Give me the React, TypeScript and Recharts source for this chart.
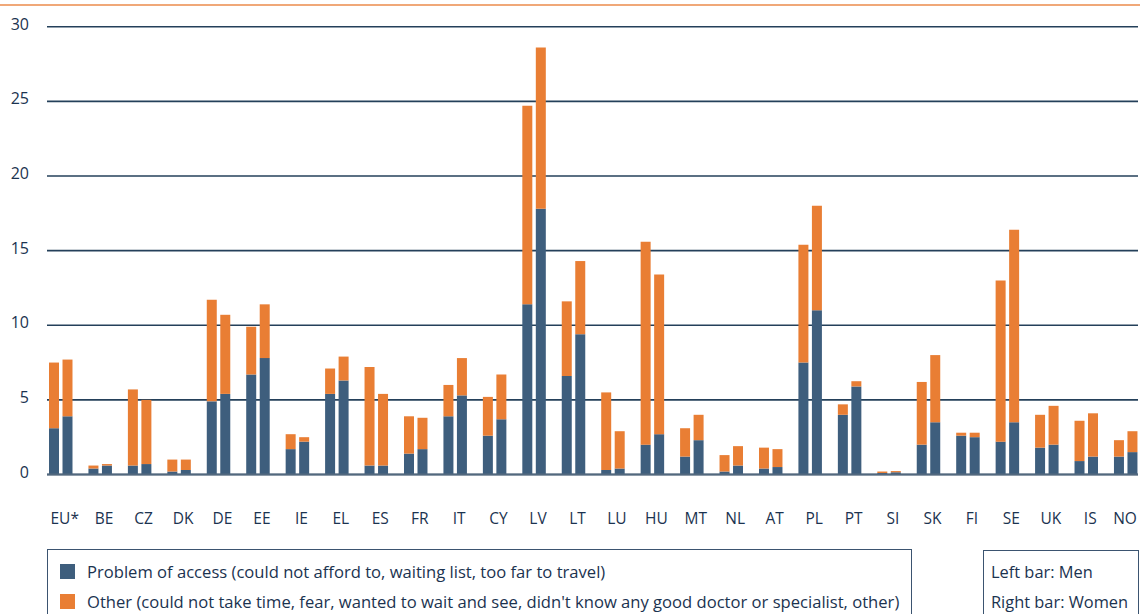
import React from 'react';
import { BarChart, Bar, XAxis, YAxis, CartesianGrid } from 'recharts';

const countries = ['EU*', 'BE', 'CZ', 'DK', 'DE', 'EE', 'IE', 'EL', 'ES', 'FR', 'IT', 'CY', 'LV', 'LT', 'LU', 'HU', 'MT', 'NL', 'AT', 'PL', 'PT', 'SI', 'SK', 'FI', 'SE', 'UK', 'IS', 'NO'];

const menAccess = [3.1, 0.4, 0.6, 0.2, 4.9, 6.7, 1.7, 5.4, 0.6, 1.4, 3.9, 2.6, 11.4, 6.6, 0.3, 2.0, 1.2, 0.2, 0.4, 7.5, 4.0, 0.1, 2.0, 2.6, 2.2, 1.8, 0.9, 1.2];
const menOther = [4.4, 0.2, 5.1, 0.8, 6.8, 3.2, 1.0, 1.7, 6.6, 2.5, 2.1, 2.6, 13.3, 5.0, 5.2, 13.6, 1.9, 1.1, 1.4, 7.9, 0.7, 0.1, 4.2, 0.2, 10.8, 2.2, 2.7, 1.1];
const womenAccess = [3.9, 0.6, 0.7, 0.3, 5.4, 7.8, 2.2, 6.3, 0.6, 1.7, 5.3, 3.7, 17.8, 9.4, 0.4, 2.7, 2.3, 0.6, 0.5, 11.0, 5.9, 0.15, 3.5, 2.5, 3.5, 2.0, 1.2, 1.5];
const womenOther = [3.8, 0.1, 4.3, 0.7, 5.3, 3.6, 0.3, 1.6, 4.8, 2.1, 2.5, 3.0, 10.8, 4.9, 2.5, 10.7, 1.7, 1.3, 1.2, 7.0, 0.35, 0.08, 4.5, 0.3, 12.9, 2.6, 2.9, 1.4];

const yTicks = [0, 5, 10, 15, 20, 25, 30];

const legendAccess = 'Problem of access (could not afford to, waiting list, too far to travel)';
const legendOther = "Other (could not take time, fear, wanted to wait and see, didn't know any good doctor or specialist, other)";
const noteMen = 'Left bar: Men';
const noteWomen = 'Right bar: Women';

const NAVY = '#3e5e7d';
const ORANGE = '#e97e34';
const TEXT = '#1b3350';
const FONT = "'Open Sans', sans-serif";
const CHART_W = 1140;

const data = countries.map((c, i) => ({
  country: c,
  menAccess: menAccess[i],
  menOther: menOther[i],
  womenAccess: womenAccess[i],
  womenOther: womenOther[i],
}));

const YTick = (props: any) => {
  const { x, y, payload } = props;
  return (
    <text x={x} y={y - 3} textAnchor="end" dominantBaseline="central" fill={TEXT} fontSize={16} fontFamily={FONT}>
      {payload.value}
    </text>
  );
};

const XTick = (props: any) => {
  const { x, y, payload } = props;
  const cx = Math.min(x + 4, CHART_W - 15);
  return (
    <text x={cx} y={y} dy="0.71em" textAnchor="middle" fill={TEXT} fontSize={15.5} fontFamily={FONT}>
      {payload.value}
    </text>
  );
};

const Swatch = ({ color }: { color: string }) => (
  <span style={{ display: 'inline-block', width: 15, height: 15, background: color, marginRight: 12, flex: '0 0 auto' }} />
);

export default function App() {
  return (
    <div style={{ position: 'absolute', left: 0, top: 0, width: CHART_W, height: 614, overflow: 'hidden', background: '#fff', fontFamily: FONT }}>
      <div style={{ position: 'absolute', left: 0, top: 4, width: CHART_W, height: 0, borderTop: '2px solid #f0a878' }} />
      <BarChart
        width={CHART_W}
        height={614}
        data={data}
        margin={{ top: 26.7, right: 2, bottom: 79.5, left: 0 }}
        barSize={10}
        barGap={3.5}
      >
        <CartesianGrid horizontal={true} vertical={false} stroke="#24405a" strokeWidth={1.6} />
        <XAxis
          dataKey="country"
          interval={0}
          tickLine={false}
          tickSize={0}
          tickMargin={38}
          height={60}
          padding={{ left: -6, right: -7.4 }}
          axisLine={{ stroke: '#52687e', strokeWidth: 2 }}
          tick={<XTick />}
        />
        <YAxis
          width={47}
          domain={[0, 30]}
          ticks={yTicks}
          axisLine={false}
          tickLine={false}
          tickSize={0}
          tickMargin={18}
          tick={<YTick />}
        />
        <Bar dataKey="menAccess" stackId="men" fill={NAVY} isAnimationActive={false} />
        <Bar dataKey="menOther" stackId="men" fill={ORANGE} isAnimationActive={false} />
        <Bar dataKey="womenAccess" stackId="women" fill={NAVY} isAnimationActive={false} />
        <Bar dataKey="womenOther" stackId="women" fill={ORANGE} isAnimationActive={false} />
      </BarChart>
      <div style={{ position: 'absolute', left: 47, top: 549, width: 865, height: 80, border: '1.5px solid #3b5470', boxSizing: 'border-box', color: TEXT, fontSize: 16.6 }}>
        <div style={{ position: 'absolute', left: 12, top: 14, display: 'flex', alignItems: 'center', whiteSpace: 'nowrap', lineHeight: '15px' }}>
          <Swatch color={NAVY} />
          <span>{legendAccess}</span>
        </div>
        <div style={{ position: 'absolute', left: 12, top: 44, display: 'flex', alignItems: 'center', whiteSpace: 'nowrap', lineHeight: '15px' }}>
          <Swatch color={ORANGE} />
          <span>{legendOther}</span>
        </div>
      </div>
      <div style={{ position: 'absolute', left: 983, top: 550, width: 156, height: 80, border: '1.5px solid #3b5470', boxSizing: 'border-box', color: TEXT, fontSize: 16.4 }}>
        <div style={{ position: 'absolute', left: 7, top: 13, whiteSpace: 'nowrap', lineHeight: '15px' }}>{noteMen}</div>
        <div style={{ position: 'absolute', left: 7, top: 43, whiteSpace: 'nowrap', lineHeight: '15px' }}>{noteWomen}</div>
      </div>
    </div>
  );
}
